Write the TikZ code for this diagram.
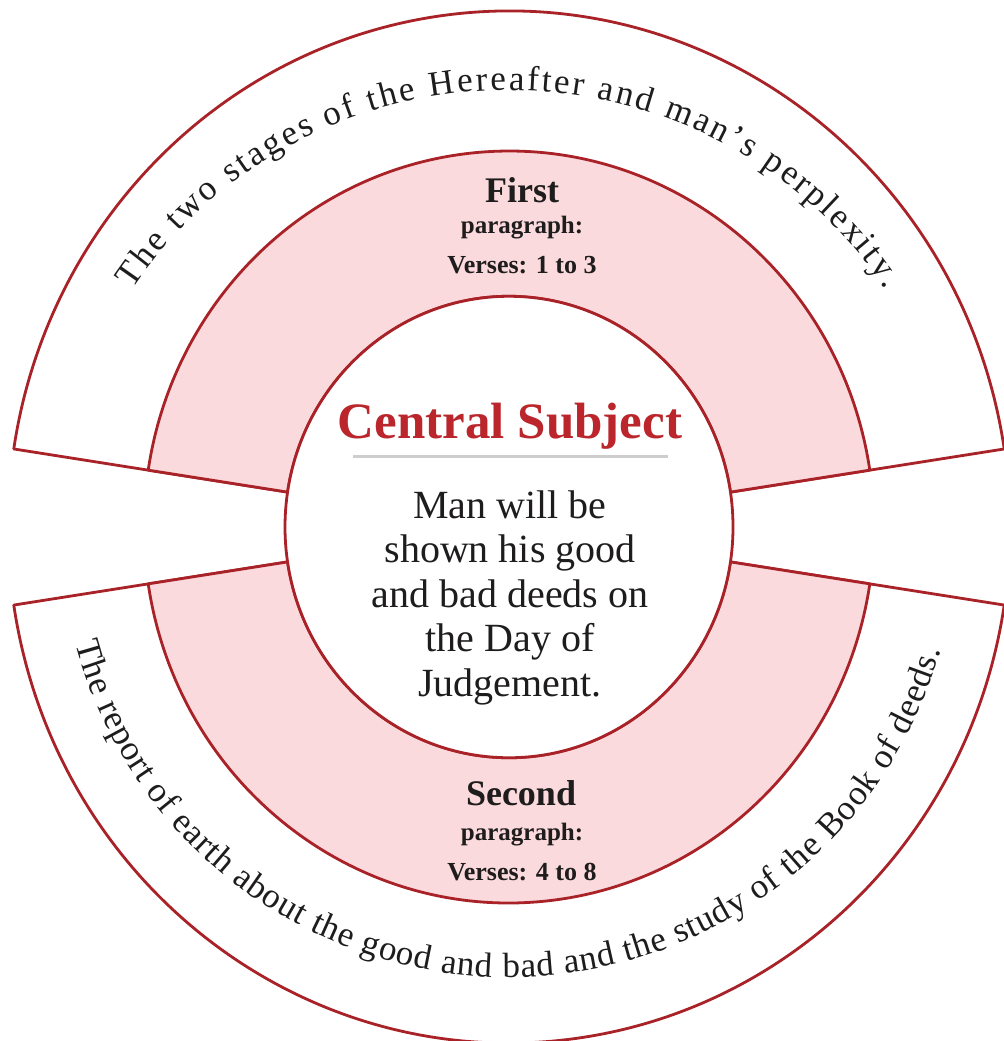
\documentclass[tikz,border=0pt]{standalone}
\usepackage{fontspec}
\setmainfont{Liberation Serif}
\usetikzlibrary{decorations.text}
\definecolor{ringred}{RGB}{168,34,40}
\definecolor{ringpink}{RGB}{250,218,220}
\definecolor{titlered}{RGB}{186,38,44}
\definecolor{rulegray}{RGB}{205,205,205}
\definecolor{inktext}{RGB}{30,28,28}
\begin{document}
\begin{tikzpicture}[x=1pt,y=1.03pt,
  ringline/.style={draw=ringred, line width=2.8pt, line join=round},
  whitepart/.style={ringline, fill=white},
  pinkpart/.style={ringline, fill=ringpink},
  headword/.style={font=\fontsize{36}{40}\selectfont\bfseries, text=inktext, inner sep=0pt, anchor=base},
  subword/.style={font=\fontsize{25}{28}\selectfont\bfseries, text=inktext, inner sep=0pt, anchor=base},
  versword/.style={font=\fontsize{26}{29}\selectfont\bfseries, text=inktext, inner sep=0pt, anchor=base},
  bodyline/.style={font=\fontsize{40}{44}\selectfont, text=inktext, inner sep=0pt, anchor=base}
]
\useasboundingbox (-509,-499) rectangle (494,511.65);

% top half: outer white band and pink band
\path[whitepart] (8.7:224) -- (8.7:501) arc[start angle=8.7, end angle=171.3, radius=501]
  -- (171.3:224) arc[start angle=171.3, end angle=8.7, radius=224] -- cycle;
\path[pinkpart] (8.7:224) -- (8.7:365) arc[start angle=8.7, end angle=171.3, radius=365]
  -- (171.3:224) arc[start angle=171.3, end angle=8.7, radius=224] -- cycle;

% bottom half
\path[whitepart] (188.7:224) -- (188.7:501) arc[start angle=188.7, end angle=351.3, radius=501]
  -- (351.3:224) arc[start angle=351.3, end angle=188.7, radius=224] -- cycle;
\path[pinkpart] (188.7:224) -- (188.7:365) arc[start angle=188.7, end angle=351.3, radius=365]
  -- (351.3:224) arc[start angle=351.3, end angle=188.7, radius=224] -- cycle;

% central circle
\path[whitepart] (0,0) circle[radius=224];

% central texts
\node[font=\fontsize{51}{56}\selectfont\bfseries, text=titlered, inner sep=0pt, anchor=base] (central) at (1,86.4) {Central Subject};
\draw[rulegray, line width=3pt] (-156,68) -- (159,68);
\node[bodyline] (body1) at (1,8.74) {Man will be};
\node[bodyline] (body2) at (1,-34.5) {shown his good};
\node[bodyline] (body3) at (1,-77.7) {and bad deeds on};
\node[bodyline] (body4) at (1,-120.9) {the Day of};
\node[bodyline] (body5) at (1,-164.1) {Judgement.};

% pink band labels
\node[headword] (first) at (13,315.5) {First};
\node[subword] (firstpara) at (13,285.4) {paragraph:};
\node[versword] (firstvers) at (13,246.6) {Verses: 1 to 3};
\node[headword] (second) at (12,-269.9) {Second};
\node[subword] (secondpara) at (13,-303.9) {paragraph:};
\node[versword] (secondvers) at (13,-342.7) {Verses: 4 to 8};

% curved texts in the outer band
\path[decorate, decoration={text along path, text align={fit to path},
  text={|\fontsize{35}{40}\selectfont\color{inktext}|The two stages of the Hereafter and man's perplexity.}}]
  (147:449 and 424) arc[start angle=147, end angle=33, x radius=449, y radius=424];
\path[decorate, decoration={text along path, text align={fit to path},
  text={|\fontsize{35}{40}\selectfont\color{inktext}|The report of earth about the good and bad and the study of the Book of deeds.}}]
  (195:449 and 437) arc[start angle=195, end angle=344, x radius=449, y radius=437];
\end{tikzpicture}
\end{document}
